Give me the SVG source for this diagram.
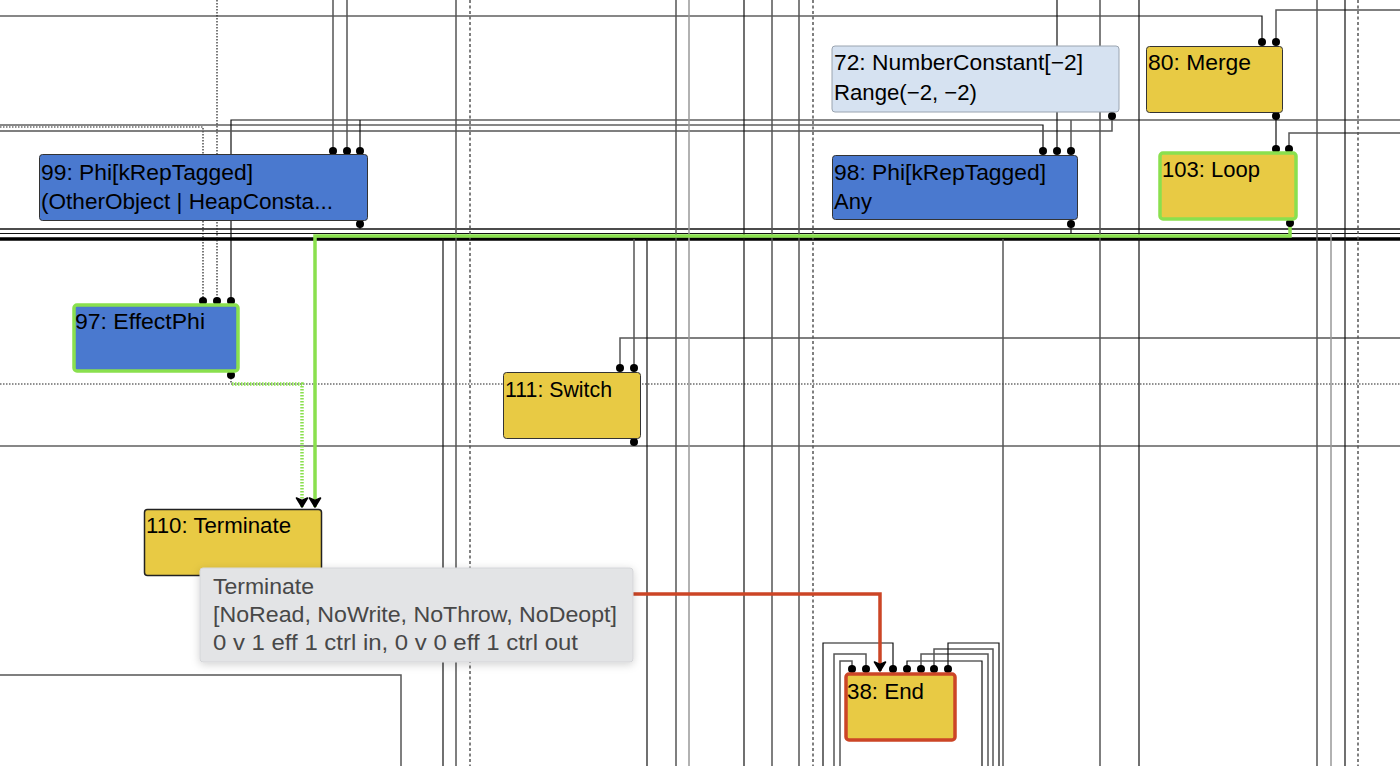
<svg xmlns="http://www.w3.org/2000/svg" width="1400" height="766" viewBox="0 0 1400 766">
<style>
.k{stroke:#111;stroke-width:1.2;fill:none}
.g{stroke:#555;stroke-width:1.5;fill:none}
.lg{stroke:#999;stroke-width:1.5;fill:none}
.dt{stroke:#222;stroke-width:1.2;stroke-dasharray:1.5 1.5;fill:none}
.ds{stroke:#555;stroke-width:1.5;stroke-dasharray:3 2.5;fill:none}
.thick{stroke:#000;stroke-width:3.5;fill:none}
.grn{stroke:#8ae04e;stroke-width:3.5;fill:none}
.grnd{stroke:#8ae04e;stroke-width:3.5;stroke-dasharray:1.5 1.5;fill:none}
.red{stroke:#cc4526;stroke-width:3.5;fill:none}
.pin{fill:#000}
.node rect{stroke:#333;stroke-width:1}
.blue{fill:#4a79cf}
.yel{fill:#e8ca44}
.cst{fill:#d6e2f1;stroke:#9aa4b0 !important}
.hl-g{stroke:#8ae04e !important;stroke-width:3.5 !important}
.hl-r{stroke:#cc4526 !important;stroke-width:3.5 !important}
.lbl{font-family:"Liberation Sans",Arial,sans-serif;font-size:22px;fill:#000}
.tip{font-family:"Liberation Sans",Arial,sans-serif;font-size:22px;fill:#484848}
</style>
<defs>
<marker id="arr" viewBox="-1 -1 11 13" refX="9" refY="5.5" markerUnits="userSpaceOnUse" markerWidth="11" markerHeight="13" orient="auto" overflow="visible">
<path d="M0,0 L9,5.5 L0,11 L2.5,5.5 Z" fill="#000" stroke="#000" stroke-width="1.6" stroke-linejoin="round"/>
</marker>
<filter id="sh" x="-10%" y="-20%" width="120%" height="150%">
<feDropShadow dx="0" dy="2" stdDeviation="4" flood-color="#000" flood-opacity="0.18"/>
</filter>
</defs>
<rect width="1400" height="766" fill="#fff"/>
<g id="connectors">
<path class="k" d="M0,16 H1262 V42"/>
<path class="g" d="M1400,10 H1276 V42"/>
<path class="k" d="M1400,120 H231 V301"/>
<path class="k" d="M0,125 H1043 V151"/>
<path class="dt" d="M0,127 H203 V301"/>
<path class="g" d="M1112,116 V131 H0"/>
<path class="g" d="M1400,133 H1289 V151"/>
<path class="k" d="M1276,116 V151"/>
<path class="g" d="M1400,338 H620 V368"/>
<path class="dt" d="M0,384 H1400"/>
<path class="k" d="M0,446 H1400"/>
<path class="g" d="M0,675 H401 V766"/>
<path class="k" style="stroke-width:1.6" d="M0,229 H1400"/>
<path class="k" d="M0,233.5 H1400"/>
<path class="thick" d="M0,239 H1400"/>
<path class="dt" d="M217,0 V301"/>
<path class="g" d="M333,0 V151"/>
<path class="g" d="M347,0 V151"/>
<path class="k" d="M360,120 V151"/>
<path class="k" d="M360,224 V229"/>
<path class="k" d="M443,239 V766"/>
<path class="g" d="M456,0 V766"/>
<path class="ds" d="M470,0 V766"/>
<path class="g" d="M634,239 V368"/>
<path class="g" d="M634,442 V446"/>
<path class="k" d="M647,239 V766"/>
<path class="g" d="M676,0 V766"/>
<path class="lg" d="M689,0 V766"/>
<path class="k" d="M744,0 V766"/>
<path class="g" d="M772,0 V766"/>
<path class="g" d="M799,0 V766"/>
<path class="ds" d="M813,0 V766"/>
<path class="g" d="M1003,239 V766"/>
<path class="k" d="M1057,0 V151"/>
<path class="g" d="M1071,120 V151"/>
<path class="k" d="M1071,224 V234"/>
<path class="g" d="M1100,0 V766"/>
<path class="k" d="M1139,0 V766"/>
<path class="g" d="M1317,0 V766"/>
<path class="lg" d="M1331,233 V766"/>
<path class="k" d="M1345,0 V766"/>
<path class="ds" d="M1358,0 V766"/>
<path class="g" d="M852,669 V661 H840 V766"/>
<path class="g" d="M866,669 V654 H834 V766"/>
<path class="k" d="M893,669 V643 H823 V766"/>
<path class="k" d="M907,669 V661 H982 V766"/>
<path class="g" d="M921,669 V654 H988 V766"/>
<path class="g" d="M934,669 V649 H993 V766"/>
<path class="k" d="M948,669 V643 H999 V766"/>
<path class="grn" d="M1290,223 V236 H315 V507" marker-end="url(#arr)"/>
<path class="dt" d="M231,375 V384"/>
<path class="grnd" d="M232,384 H302 V507" marker-end="url(#arr)"/>
<path class="red" d="M315,579 V594 H880 V671" marker-end="url(#arr)"/>
<g class="pin">
<circle cx="333" cy="151" r="4"/><circle cx="347" cy="151" r="4"/><circle cx="360" cy="151" r="4"/>
<circle cx="360" cy="224" r="4"/>
<circle cx="1043" cy="151" r="4"/><circle cx="1057" cy="151" r="4"/><circle cx="1071" cy="151" r="4"/>
<circle cx="1071" cy="224" r="4"/>
<circle cx="1112" cy="116" r="4"/>
<circle cx="1262" cy="42" r="4"/><circle cx="1276" cy="42" r="4"/>
<circle cx="1276" cy="116" r="4"/>
<circle cx="1276" cy="149" r="4"/><circle cx="1289" cy="149" r="4"/>
<circle cx="1290" cy="223" r="4"/>
<circle cx="203" cy="301" r="4"/><circle cx="217" cy="301" r="4"/><circle cx="231" cy="301" r="4"/>
<circle cx="231" cy="375" r="4"/>
<circle cx="620" cy="368" r="4"/><circle cx="634" cy="368" r="4"/>
<circle cx="634" cy="442" r="4"/>
<circle cx="852" cy="669" r="4"/><circle cx="866" cy="669" r="4"/><circle cx="893" cy="669" r="4"/>
<circle cx="907" cy="669" r="4"/><circle cx="921" cy="669" r="4"/><circle cx="934" cy="669" r="4"/><circle cx="948" cy="669" r="4"/>
</g>
</g>
<g id="node72" class="node">
<rect class="cst" x="832" y="46" width="287" height="66" rx="3"/>
<text class="lbl" x="834" y="70" textLength="249" lengthAdjust="spacingAndGlyphs">72: NumberConstant[−2]</text>
<text class="lbl" x="834" y="100" textLength="143" lengthAdjust="spacingAndGlyphs">Range(−2, −2)</text>
</g>
<g id="node80" class="node">
<rect class="yel" x="1146.5" y="46.5" width="136" height="66" rx="3"/>
<text class="lbl" x="1148" y="70" textLength="103" lengthAdjust="spacingAndGlyphs">80: Merge</text>
</g>
<g id="node99" class="node">
<rect class="blue" x="39.5" y="154.5" width="328" height="66" rx="3"/>
<text class="lbl" x="41" y="180" textLength="212" lengthAdjust="spacingAndGlyphs">99: Phi[kRepTagged]</text>
<text class="lbl" x="41" y="209" textLength="292" lengthAdjust="spacingAndGlyphs">(OtherObject | HeapConsta...</text>
</g>
<g id="node98" class="node">
<rect class="blue" x="832.5" y="155.5" width="245" height="64" rx="3"/>
<text class="lbl" x="834" y="180" textLength="212" lengthAdjust="spacingAndGlyphs">98: Phi[kRepTagged]</text>
<text class="lbl" x="834" y="209">Any</text>
</g>
<g id="node103" class="node">
<rect class="yel hl-g" x="1160" y="153" width="136" height="66" rx="3"/>
<text class="lbl" x="1162" y="177" textLength="98" lengthAdjust="spacingAndGlyphs">103: Loop</text>
</g>
<g id="node97" class="node">
<rect class="blue hl-g" x="74" y="305" width="164" height="66" rx="3"/>
<text class="lbl" x="75" y="329" textLength="130" lengthAdjust="spacingAndGlyphs">97: EffectPhi</text>
</g>
<g id="node111" class="node">
<rect class="yel" x="503.5" y="372.5" width="137" height="66" rx="3"/>
<text class="lbl" x="505" y="397" textLength="107" lengthAdjust="spacingAndGlyphs">111: Switch</text>
</g>
<g id="node110" class="node">
<rect class="yel" style="stroke:#222;stroke-width:1.5" x="144.5" y="509.5" width="177" height="66" rx="3"/>
<text class="lbl" x="146" y="533" textLength="145" lengthAdjust="spacingAndGlyphs">110: Terminate</text>
</g>
<g id="node38" class="node">
<rect class="yel hl-r" x="846" y="674" width="109" height="66" rx="3"/>
<text class="lbl" x="847" y="699" textLength="77" lengthAdjust="spacingAndGlyphs">38: End</text>
</g>
<g id="tooltip">
<rect x="200" y="568" width="433" height="94" rx="3" fill="#e3e4e6" stroke="#d4d5d8" stroke-width="1" filter="url(#sh)"/>
<text class="tip" x="213" y="594" textLength="101" lengthAdjust="spacingAndGlyphs">Terminate</text>
<text class="tip" x="213" y="622" textLength="404" lengthAdjust="spacingAndGlyphs">[NoRead, NoWrite, NoThrow, NoDeopt]</text>
<text class="tip" x="213" y="650" textLength="365" lengthAdjust="spacingAndGlyphs">0 v 1 eff 1 ctrl in, 0 v 0 eff 1 ctrl out</text>
</g>
</svg>
